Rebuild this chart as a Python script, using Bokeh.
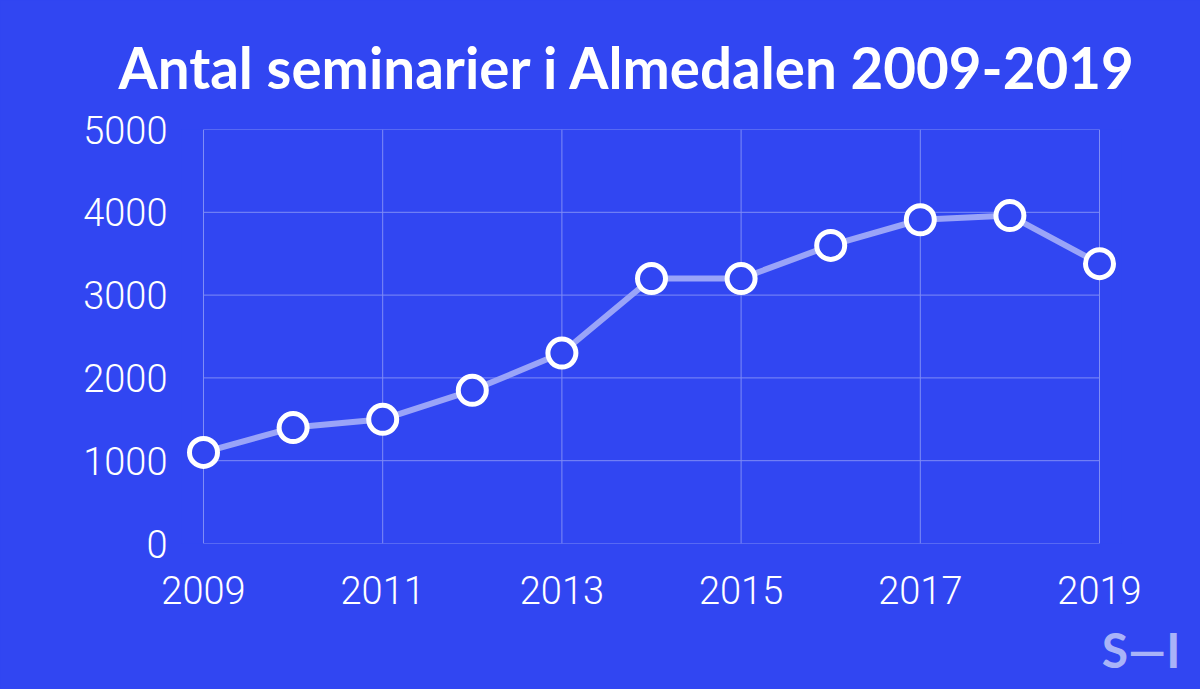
from bokeh.plotting import figure
from bokeh.models import FixedTicker, Range1d, Title, ColumnDataSource
from bokeh.embed import file_html
from bokeh.resources import INLINE

# --- data ---
years = [2009, 2010, 2011, 2012, 2013, 2014, 2015, 2016, 2017, 2018, 2019]
seminars = [1100, 1400, 1500, 1850, 2300, 3200, 3200, 3600, 3910, 3960, 3380]
x_ticks = [2009, 2011, 2013, 2015, 2017, 2019]
y_ticks = [0, 1000, 2000, 3000, 4000, 5000]
title_text = "Antal seminarier i Almedalen 2009-2019"
logo_text = "S—I"

BG = "#3146F2"
GRID = "#7F8CF6"
LINE = "#9AA4F8"
LOGO = "#A9B3F8"

W, H = 1200, 689
FL, FR, FT, FB = 181, 1121, 129, 543   # frame edges in pixels

src = ColumnDataSource(dict(x=years, y=seminars))

# 2009 -> 203 px, 2019 -> 1099 px
PX_PER_YEAR = (1099 - 203) / (x_ticks[-1] - x_ticks[0])
x_start = x_ticks[0] - (203 - FL) / PX_PER_YEAR
x_end = x_ticks[-1] + (FR - 1099) / PX_PER_YEAR

p = figure(width=W, height=H, output_backend="svg", toolbar_location=None,
           x_range=Range1d(x_start, x_end), y_range=Range1d(y_ticks[0], y_ticks[-1]),
           min_border_left=FL, min_border_right=W - FR, min_border_top=FT,
           min_border_bottom=H - FB)
p.background_fill_color = BG
p.border_fill_color = BG
p.outline_line_color = None
p.grid.visible = False

for ax in (p.xaxis[0], p.yaxis[0]):
    ax.axis_line_color = None
    ax.major_tick_line_color = None
    ax.minor_tick_line_color = None
    ax.major_tick_out = 0
    ax.major_tick_in = 0
    ax.major_label_text_color = "white"
    ax.major_label_text_font = "Roboto Light"
    ax.major_label_text_font_size = "38px"

p.xaxis[0].ticker = FixedTicker(ticks=x_ticks)
p.yaxis[0].ticker = FixedTicker(ticks=y_ticks)
p.xaxis[0].major_label_standoff = 32
p.yaxis[0].major_label_standoff = 14

# grid drawn from the tick arrays, limited to the 2009-2019 / 0-5000 box
p.segment(x0=x_ticks, y0=[y_ticks[0]] * len(x_ticks), x1=x_ticks, y1=[y_ticks[-1]] * len(x_ticks),
          line_color=GRID, line_width=1)
p.segment(x0=[x_ticks[0]] * len(y_ticks), y0=y_ticks, x1=[x_ticks[-1]] * len(y_ticks), y1=y_ticks,
          line_color=GRID, line_width=1)

p.line("x", "y", source=src, line_color=LINE, line_width=6)
p.scatter("x", "y", source=src, size=28, fill_color=BG, line_color="white", line_width=5)

p.title = Title(text=title_text, align="left", offset=118 - FL, standoff=58,
                text_color="white", text_font="Lato", text_font_style="bold",
                text_font_size="56.5px")

logo = Title(text=logo_text, align="right", offset=FR - 1180, standoff=24,
             text_color=LOGO, text_font="Lato", text_font_style="bold",
             text_font_size="48px", text_line_height=1.0)
p.add_layout(logo, "below")

html = file_html(p, INLINE)
html = html.replace("<head>", "<head><style>body{background:%s;}</style>" % BG, 1)
open("out.html", "w").write(html)
